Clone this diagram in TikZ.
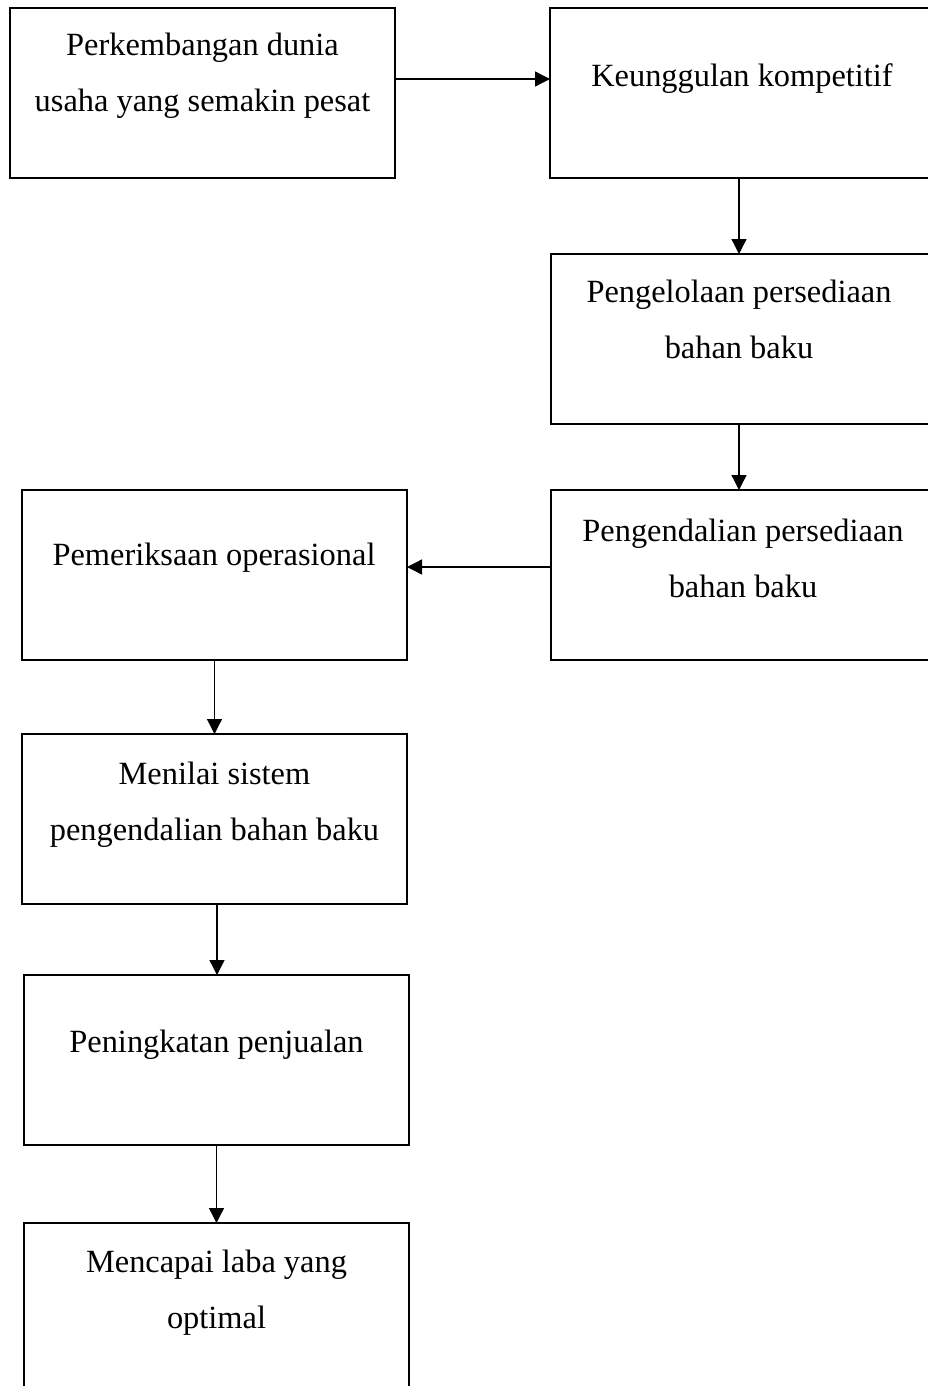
\documentclass[tikz,border=0pt]{standalone}
\usepackage{fontspec}
\setmainfont{Liberation Serif}
\usetikzlibrary{arrows.meta}
\begin{document}
\begin{tikzpicture}[x=1pt,y=-1pt,
  box/.style={draw=black, line width=2.6pt, rectangle, inner sep=0pt, outer sep=0pt},
  txt/.style={font=\fontsize{32.4}{56}\selectfont, align=center, anchor=base, inner sep=0pt},
  arr/.style={draw=black, line width=1.3pt, -{Triangle[length=15pt,width=15pt]}}]
\useasboundingbox (0,0) rectangle (928,1386);
\clip (0,0) rectangle (928,1386);
\fill[white] (0,0) rectangle (928,1386);
% boxes
\node[box, minimum width=385pt, minimum height=170pt] (b1) at (202.5,93) {};
\node[box, minimum width=420pt, minimum height=170pt] (b2) at (760,93) {};
\node[box, minimum width=419pt, minimum height=170pt] (b3) at (760.5,339) {};
\node[box, minimum width=419pt, minimum height=170pt] (b4) at (760.5,575) {};
\node[box, minimum width=385pt, minimum height=170pt] (b5) at (214.5,575) {};
\node[box, minimum width=385pt, minimum height=170pt] (b6) at (214.5,819) {};
\node[box, minimum width=385pt, minimum height=170pt] (b7) at (216.5,1060) {};
\node[box, minimum width=385pt, minimum height=197pt] (b8) at (216.5,1321.5) {};
% texts (base anchor = baseline of last line)
\node[txt] (t1) at (202.5,112) {Perkembangan dunia\\usaha yang semakin pesat};
\node[txt] (t2) at (742,87) {Keunggulan kompetitif};
\node[txt] (t3) at (739,358) {Pengelolaan persediaan\\bahan baku};
\node[txt] (t4) at (743,597) {Pengendalian persediaan\\bahan baku};
\node[txt] (t5) at (214,565) {Pemeriksaan operasional};
\node[txt] (t6) at (214.5,840) {Menilai sistem\\pengendalian bahan baku};
\node[txt] (t7) at (216.5,1052) {Peningkatan penjualan};
\node[txt] (t8) at (216.5,1328) {Mencapai laba yang\\optimal};
% connectors
\draw[arr] (b1.east |- 0,79) -- (b2.west |- 0,79);
\draw[arr] (b2.south -| 739,0) -- (b3.north -| 739,0);
\draw[arr] (b3.south -| 739,0) -- (b4.north -| 739,0);
\draw[arr] (b4.west |- 0,567) -- (b5.east |- 0,567);
\draw[arr] (b5.south) -- (b6.north);
\draw[arr] (b6.south -| 217,0) -- (b7.north -| 217,0);
\draw[arr] (b7.south) -- (b8.north);
\end{tikzpicture}
\end{document}
